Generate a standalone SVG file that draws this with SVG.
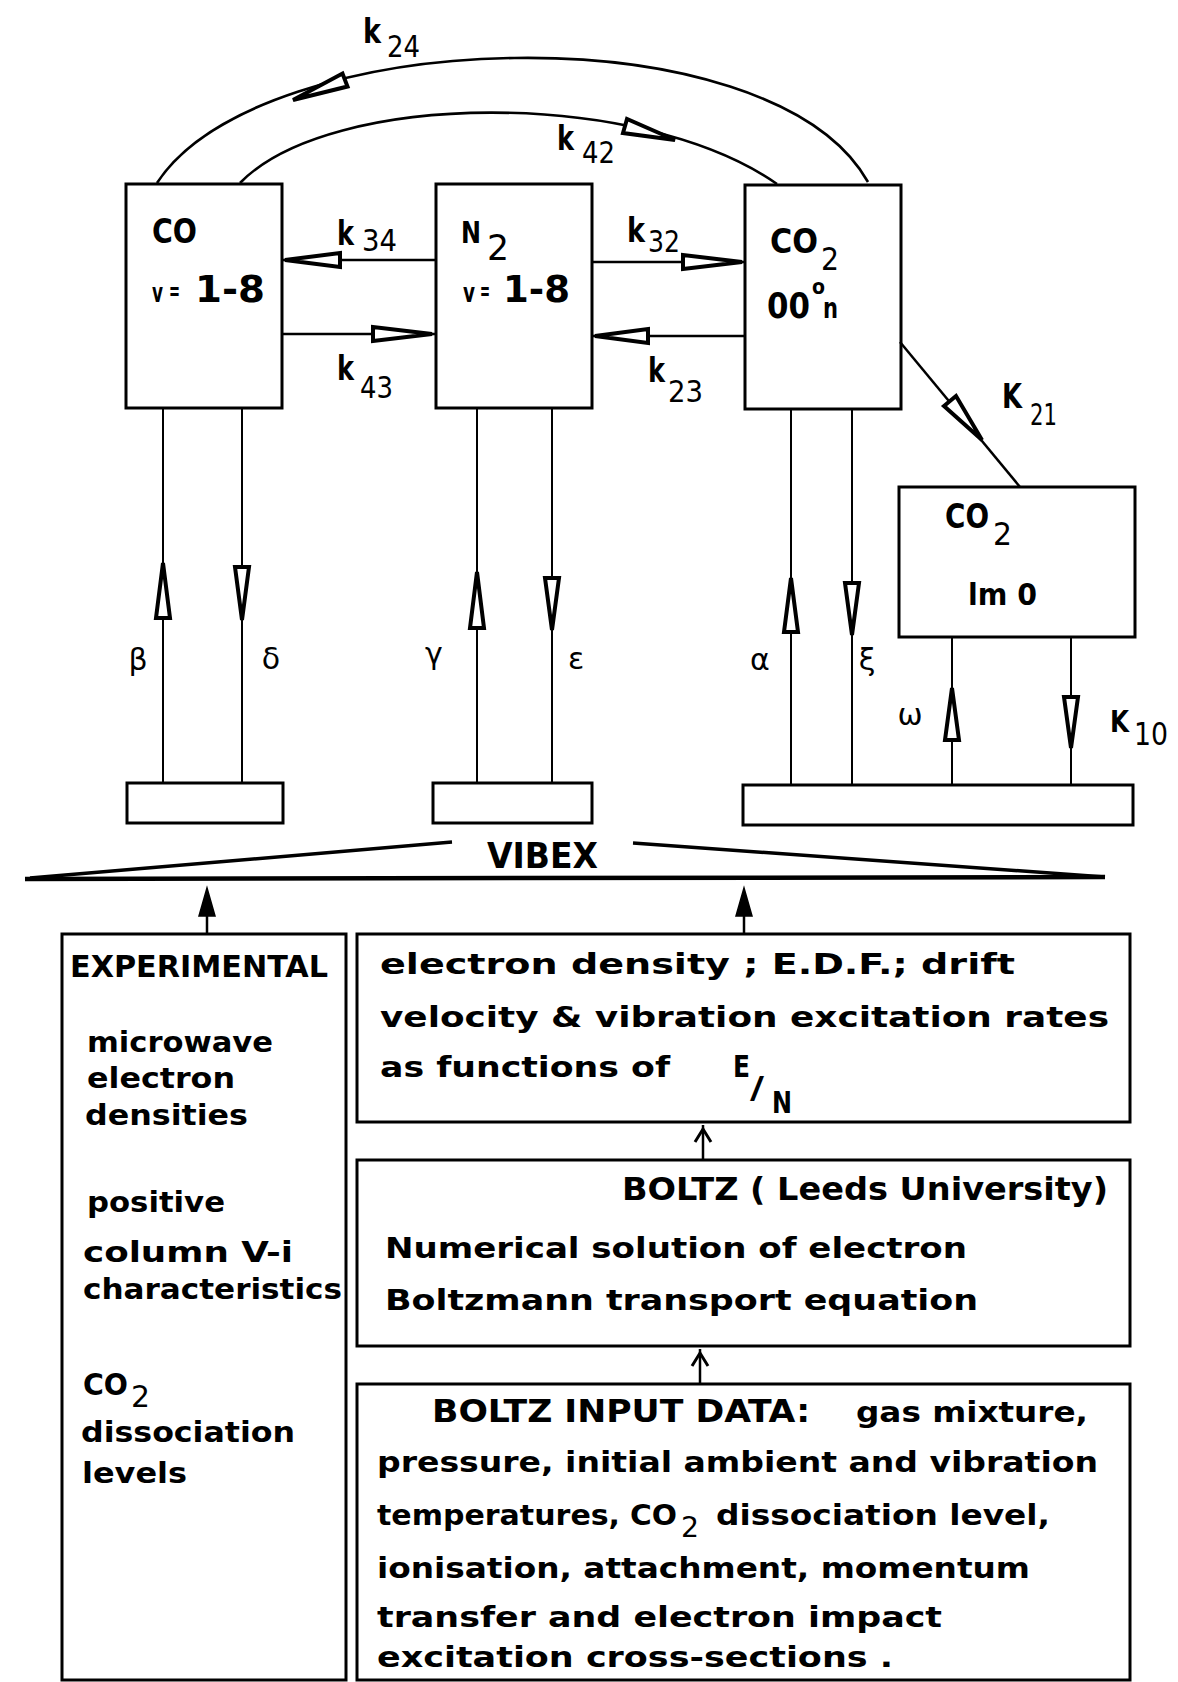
<svg xmlns="http://www.w3.org/2000/svg" width="1178" height="1682" viewBox="0 0 1178 1682">
<style>
.box{fill:none;stroke:#000;stroke-width:3}
.ln{fill:none;stroke:#000;stroke-width:2}
.arc{fill:none;stroke:#000;stroke-width:2.6}
.ah{fill:#fff;stroke:#000;stroke-width:4;stroke-linejoin:miter}
.ahf{fill:#000;stroke:#000;stroke-width:1.5}
.chev{fill:none;stroke:#000;stroke-width:3}
.t{font-family:"DejaVu Sans Condensed","Liberation Sans Narrow","DejaVu Sans",sans-serif;font-stretch:condensed;font-weight:bold;fill:#000}
.n{font-family:"DejaVu Sans Condensed","Liberation Sans Narrow","DejaVu Sans",sans-serif;font-stretch:condensed;font-weight:normal;fill:#000}
.g{font-family:"DejaVu Sans",sans-serif;font-size:30px;fill:#000;text-anchor:middle}
.k{font-size:34px}
.s{font-size:30px}
.b{font-size:28px}
</style>
<rect width="1178" height="1682" fill="#fff"/>

<g id="connectors">
  <path class="arc" d="M157,183 C260,25 770,8 868,182"/>
  <path class="arc" d="M240,183 C330,90 640,88 777,184"/>
  <polygon class="ah" points="293,100 347.5,86.5 342.5,73.5"/>
  <polygon class="ah" points="675,140 623,133 627,119"/>
  <line class="ln" x1="436" y1="260" x2="282" y2="260" style="stroke-width:2.5"/>
  <polygon class="ah" points="285,260 340,253 340,267"/>
  <line class="ln" x1="282" y1="334" x2="436" y2="334" style="stroke-width:2.5"/>
  <polygon class="ah" points="432,334 373,327 373,341"/>
  <line class="ln" x1="592" y1="262" x2="745" y2="262" style="stroke-width:2.5"/>
  <polygon class="ah" points="742,262 683,255 683,269"/>
  <line class="ln" x1="745" y1="336" x2="592" y2="336" style="stroke-width:2.5"/>
  <polygon class="ah" points="595,336 648,329 648,343"/>
  <line class="ln" x1="900" y1="342" x2="1020" y2="487" style="stroke-width:2.5"/>
  <polygon class="ah" points="982,440 944,406 956,396"/>
  <line class="ln" x1="163" y1="408" x2="163" y2="783"/>
  <polygon class="ah" points="163,563 156,618 170,618"/>
  <line class="ln" x1="242" y1="408" x2="242" y2="783"/>
  <polygon class="ah" points="242,620 235,567 249,567"/>
  <line class="ln" x1="477" y1="408" x2="477" y2="783"/>
  <polygon class="ah" points="477,572 470,628 484,628"/>
  <line class="ln" x1="552" y1="408" x2="552" y2="783"/>
  <polygon class="ah" points="552,630 545,578 559,578"/>
  <line class="ln" x1="791" y1="409" x2="791" y2="785"/>
  <polygon class="ah" points="791,578 784,632 798,632"/>
  <line class="ln" x1="852" y1="409" x2="852" y2="785"/>
  <polygon class="ah" points="852,635 845,583 859,583"/>
  <line class="ln" x1="952" y1="637" x2="952" y2="785"/>
  <polygon class="ah" points="952,688 945,740 959,740"/>
  <line class="ln" x1="1071" y1="637" x2="1071" y2="785"/>
  <polygon class="ah" points="1071,748 1064,697 1078,697"/>
  <line class="ln" x1="207" y1="934" x2="207" y2="900" style="stroke-width:2.5"/>
  <polygon class="ahf" points="207,888 199,916 215,916"/>
  <line class="ln" x1="744" y1="934" x2="744" y2="900" style="stroke-width:2.5"/>
  <polygon class="ahf" points="744,888 736,916 752,916"/>
  <line class="ln" x1="703" y1="1160" x2="703" y2="1125" style="stroke-width:2.5"/>
  <polyline class="chev" points="695,1142 703,1129 711,1142"/>
  <line class="ln" x1="700" y1="1384" x2="700" y2="1349" style="stroke-width:2.5"/>
  <polyline class="chev" points="692,1366 700,1353 708,1366"/>
  <text class="t k" x="363" y="43" textLength="18" lengthAdjust="spacingAndGlyphs">k</text><text class="n s" x="387" y="57" textLength="33" lengthAdjust="spacingAndGlyphs">24</text>
  <text class="t k" x="557" y="150" textLength="17" lengthAdjust="spacingAndGlyphs">k</text><text class="n s" x="582" y="163" textLength="33" lengthAdjust="spacingAndGlyphs">42</text>
  <text class="t k" x="337" y="245" textLength="17" lengthAdjust="spacingAndGlyphs">k</text><text class="n s" x="362" y="251" textLength="35" lengthAdjust="spacingAndGlyphs">34</text>
  <text class="t k" x="337" y="380" textLength="17" lengthAdjust="spacingAndGlyphs">k</text><text class="n s" x="360" y="398" textLength="33" lengthAdjust="spacingAndGlyphs">43</text>
  <text class="t k" x="627" y="242" textLength="18" lengthAdjust="spacingAndGlyphs">k</text><text class="n s" x="648" y="252" textLength="32" lengthAdjust="spacingAndGlyphs">32</text>
  <text class="t k" x="648" y="382" textLength="17" lengthAdjust="spacingAndGlyphs">k</text><text class="n s" x="668" y="402" textLength="35" lengthAdjust="spacingAndGlyphs">23</text>
  <text class="t k" x="1002" y="408" textLength="20" lengthAdjust="spacingAndGlyphs">K</text><text class="n s" x="1030" y="425" textLength="27" lengthAdjust="spacingAndGlyphs">21</text>
  <text class="t" x="1110" y="732" font-size="30" textLength="19" lengthAdjust="spacingAndGlyphs">K</text><text class="n" x="1134" y="745" font-size="32" textLength="34" lengthAdjust="spacingAndGlyphs">10</text>
  <text class="g" x="138" y="670">β</text>
  <text class="g" x="271" y="669">δ</text>
  <text class="g" x="434" y="664">γ</text>
  <text class="g" x="576" y="669">ε</text>
  <text class="g" x="760" y="670">α</text>
  <text class="g" x="867" y="670">ξ</text>
  <text class="g" x="910" y="725">ω</text>
</g>

<g id="node-co">
  <rect class="box" x="126" y="184" width="156" height="224"/>
  <text class="t k" x="152" y="243" textLength="45" lengthAdjust="spacingAndGlyphs">CO</text>
  <text class="t" x="152" y="302" font-size="26" textLength="11" lengthAdjust="spacingAndGlyphs">v</text>
  <text class="t" x="169" y="300" font-size="26" textLength="11" lengthAdjust="spacingAndGlyphs">=</text>
  <text class="t" x="195" y="302" font-size="38" textLength="70" lengthAdjust="spacingAndGlyphs">1-8</text>
</g>

<g id="node-n2">
  <rect class="box" x="436" y="184" width="156" height="224"/>
  <text class="t" x="461" y="243" font-size="30" textLength="20" lengthAdjust="spacingAndGlyphs">N</text>
  <text class="n" x="487" y="260" font-size="36" textLength="22" lengthAdjust="spacingAndGlyphs">2</text>
  <text class="t" x="463" y="302" font-size="26" textLength="12" lengthAdjust="spacingAndGlyphs">v</text>
  <text class="t" x="480" y="300" font-size="26" textLength="10" lengthAdjust="spacingAndGlyphs">=</text>
  <text class="t" x="503" y="302" font-size="38" textLength="67" lengthAdjust="spacingAndGlyphs">1-8</text>
</g>

<g id="node-co2-00n">
  <rect class="box" x="745" y="185" width="156" height="224"/>
  <text class="t k" x="770" y="253" textLength="48" lengthAdjust="spacingAndGlyphs">CO</text>
  <text class="n" x="821" y="270" font-size="32" textLength="18" lengthAdjust="spacingAndGlyphs">2</text>
  <text class="t" x="767" y="318" font-size="36" textLength="43" lengthAdjust="spacingAndGlyphs">00</text>
  <text class="t" x="812" y="294" font-size="22" textLength="13" lengthAdjust="spacingAndGlyphs">o</text>
  <text class="t" x="823" y="318" font-size="28" textLength="15" lengthAdjust="spacingAndGlyphs">n</text>
</g>

<g id="node-co2-lm0">
  <rect class="box" x="899" y="487" width="236" height="150"/>
  <text class="t k" x="945" y="528" textLength="44" lengthAdjust="spacingAndGlyphs">CO</text>
  <text class="n" x="993" y="545" font-size="32" textLength="19" lengthAdjust="spacingAndGlyphs">2</text>
  <text class="t" x="968" y="605" font-size="30" textLength="69" lengthAdjust="spacingAndGlyphs">lm 0</text>
</g>

<g id="node-bar-co"><rect class="box" x="127" y="783" width="156" height="40"/></g>
<g id="node-bar-n2"><rect class="box" x="433" y="783" width="159" height="40"/></g>
<g id="node-bar-co2"><rect class="box" x="743" y="785" width="390" height="40"/></g>

<g id="node-vibex">
  <line x1="25" y1="879" x2="1105" y2="877" stroke="#000" stroke-width="4.5"/>
  <line x1="30" y1="878" x2="452" y2="842" stroke="#000" stroke-width="3.5"/>
  <line x1="633" y1="843" x2="1105" y2="877" stroke="#000" stroke-width="3.5"/>
  <text class="t" x="487" y="868" font-size="36" textLength="111" lengthAdjust="spacingAndGlyphs">VIBEX</text>
</g>

<g id="node-experimental">
  <rect class="box" x="62" y="934" width="284" height="746"/>
  <text class="t" x="70" y="977" font-size="31" textLength="258" lengthAdjust="spacingAndGlyphs">EXPERIMENTAL</text>
  <text class="t b" x="87" y="1052" textLength="186" lengthAdjust="spacingAndGlyphs">microwave</text>
  <text class="t b" x="87" y="1088" textLength="148" lengthAdjust="spacingAndGlyphs">electron</text>
  <text class="t b" x="85" y="1125" textLength="163" lengthAdjust="spacingAndGlyphs">densities</text>
  <text class="t b" x="87" y="1212" textLength="138" lengthAdjust="spacingAndGlyphs">positive</text>
  <text class="t b" x="83" y="1262" textLength="210" lengthAdjust="spacingAndGlyphs">column V-i</text>
  <text class="t b" x="83" y="1299" textLength="259" lengthAdjust="spacingAndGlyphs">characteristics</text>
  <text class="t" x="83" y="1395" font-size="30" textLength="45" lengthAdjust="spacingAndGlyphs">CO</text>
  <text class="n" x="131" y="1407" font-size="30" textLength="19" lengthAdjust="spacingAndGlyphs">2</text>
  <text class="t b" x="81" y="1442" textLength="214" lengthAdjust="spacingAndGlyphs">dissociation</text>
  <text class="t b" x="82" y="1483" textLength="105" lengthAdjust="spacingAndGlyphs">levels</text>
</g>

<g id="node-edf">
  <rect class="box" x="357" y="934" width="773" height="188"/>
  <text class="t b" x="380" y="974" textLength="635" lengthAdjust="spacingAndGlyphs">electron density ; E.D.F.; drift</text>
  <text class="t b" x="380" y="1027" textLength="729" lengthAdjust="spacingAndGlyphs">velocity &amp; vibration excitation rates</text>
  <text class="t b" x="380" y="1077" textLength="290" lengthAdjust="spacingAndGlyphs">as functions of</text>
  <text class="t" x="733" y="1077" font-size="30" textLength="17" lengthAdjust="spacingAndGlyphs">E</text>
  <text class="t" x="750" y="1098" font-size="30" textLength="14" lengthAdjust="spacingAndGlyphs">/</text>
  <text class="t" x="772" y="1113" font-size="30" textLength="20" lengthAdjust="spacingAndGlyphs">N</text>
</g>

<g id="node-boltz">
  <rect class="box" x="357" y="1160" width="773" height="186"/>
  <text class="t" x="622" y="1200" font-size="32" textLength="486" lengthAdjust="spacingAndGlyphs">BOLTZ ( Leeds University)</text>
  <text class="t b" x="385" y="1258" textLength="582" lengthAdjust="spacingAndGlyphs">Numerical solution of electron</text>
  <text class="t b" x="385" y="1310" textLength="593" lengthAdjust="spacingAndGlyphs">Boltzmann transport equation</text>
</g>

<g id="node-boltz-input">
  <rect class="box" x="357" y="1384" width="773" height="296"/>
  <text class="t" x="432" y="1422" font-size="32" textLength="378" lengthAdjust="spacingAndGlyphs">BOLTZ INPUT DATA:</text>
  <text class="t b" x="856" y="1422" textLength="232" lengthAdjust="spacingAndGlyphs">gas mixture,</text>
  <text class="t b" x="377" y="1472" textLength="721" lengthAdjust="spacingAndGlyphs">pressure, initial ambient and vibration</text>
  <text class="t b" x="377" y="1525" textLength="243" lengthAdjust="spacingAndGlyphs">temperatures,</text>
  <text class="t b" x="630" y="1525" textLength="47" lengthAdjust="spacingAndGlyphs">CO</text>
  <text class="n" x="681" y="1537" font-size="28" textLength="18" lengthAdjust="spacingAndGlyphs">2</text>
  <text class="t b" x="716" y="1525" textLength="334" lengthAdjust="spacingAndGlyphs">dissociation level,</text>
  <text class="t b" x="377" y="1578" textLength="653" lengthAdjust="spacingAndGlyphs">ionisation, attachment, momentum</text>
  <text class="t b" x="377" y="1627" textLength="565" lengthAdjust="spacingAndGlyphs">transfer and electron impact</text>
  <text class="t b" x="377" y="1667" textLength="516" lengthAdjust="spacingAndGlyphs">excitation cross-sections .</text>
</g>
</svg>
